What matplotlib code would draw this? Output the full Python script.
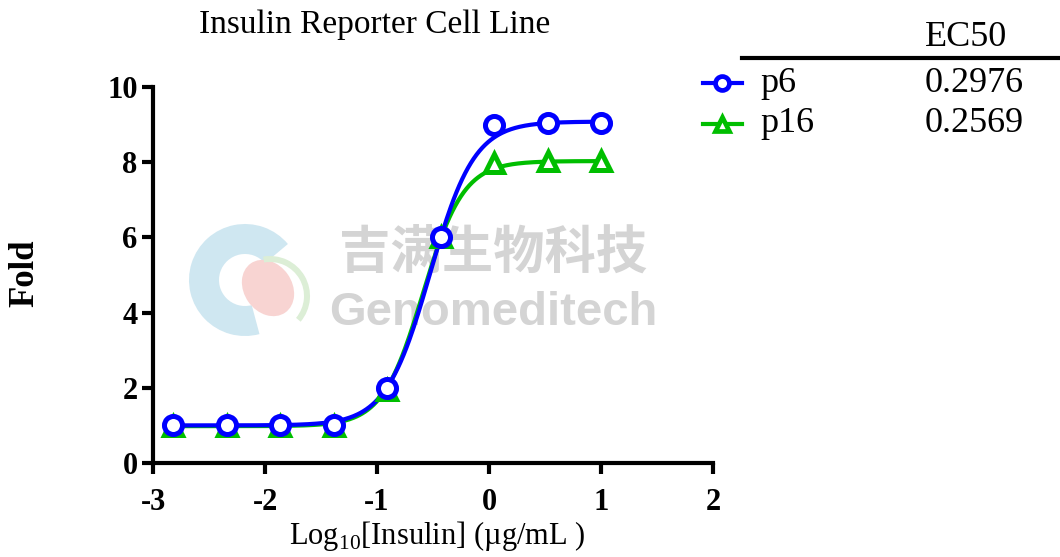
import numpy as np
import matplotlib.pyplot as plt
from matplotlib.lines import Line2D
from matplotlib.patches import Wedge, Ellipse

# ── STYLE ──────────────────────────────────────────────────
plt.rcParams["font.family"] = ["Liberation Serif", "DejaVu Serif"]
plt.rcParams["axes.unicode_minus"] = False
plt.rcParams["mathtext.fontset"] = "custom"
plt.rcParams["mathtext.rm"] = "Liberation Serif"

BLUE  = "#0000FF"
GREEN = "#00BE00"

# ── DATA ───────────────────────────────────────────────────
log_conc = [-2.817, -2.340, -1.863, -1.385, -0.908, -0.431, 0.046, 0.523, 1.0]
p6_fold  = [1.0, 1.0, 1.0, 1.0, 2.0, 6.0, 9.0, 9.05, 9.05]
p16_fold = [0.98, 0.98, 0.98, 0.98, 1.95, 6.0, 7.98, 8.02, 8.02]

series_names = ["p6", "p16"]
ec50_values  = [0.2976, 0.2569]
fit_bottom   = [1.0, 0.98]
fit_top      = [9.08, 8.03]
fit_hill     = [2.2, 2.4]

x_ticks = [-3, -2, -1, 0, 1, 2]
y_ticks = [0, 2, 4, 6, 8, 10]


def four_pl(x, bottom, top, logec50, hill):
    return bottom + (top - bottom) / (1 + 10 ** ((logec50 - x) * hill))


fig = plt.figure(figsize=(10.6, 5.57), dpi=100)

# ── WATERMARK (pixel coords overlay) ───────────────────────
wm = fig.add_axes([0, 0, 1, 1], zorder=0)
wm.set_xlim(0, 1060)
wm.set_ylim(557, 0)
wm.axis("off")
wm.add_patch(Wedge((245, 280), 56, 75, 320, width=30, facecolor="#cfe7f1", lw=0))
wm.add_patch(Ellipse((268, 288), 48, 60, angle=-35, facecolor="#f8d4d2", lw=0))
wm.add_patch(Wedge((270, 296), 40, 260, 40, width=6, facecolor="#dceed6", lw=0))
wm.text(493, 252, "吉满生物科技", family=["Noto Sans CJK SC"], fontsize=37,
        fontweight="bold", color="#d4d4d4", ha="center", va="center")
wm.text(493, 313, "Genomeditech", family=["Liberation Sans", "DejaVu Sans"], fontsize=34,
        fontweight="bold", color="#d4d4d4", ha="center", va="center")

ax = fig.add_axes([153 / 1060, 1 - 463 / 557, 560 / 1060, 376 / 557], zorder=1)

xs = np.linspace(log_conc[0], log_conc[-1], 300)
markers = ["^", "o"]
colors = [GREEN, BLUE]
data = [p16_fold, p6_fold]
idx = [1, 0]
for k, i in enumerate(idx):
    ax.plot(xs, four_pl(xs, fit_bottom[i], fit_top[i], np.log10(ec50_values[i]), fit_hill[i]),
            color=colors[k], lw=3, zorder=3)
    ax.plot(log_conc, data[k], ls="none", marker=markers[k], ms=13,
            mfc="white", mec=colors[k], mew=3.6, zorder=4)

ax.set_xlim(-3, 2)
ax.set_ylim(0, 10)
ax.set_xticks(x_ticks)
ax.set_yticks(y_ticks)
ax.set_xticklabels([str(t) for t in x_ticks], fontweight="bold", fontsize=22)
ax.set_yticklabels([str(t) for t in y_ticks], fontweight="bold", fontsize=22)
ax.tick_params(width=3, length=8, pad=3)
ax.tick_params(axis="x", pad=10)
for s in ["top", "right"]:
    ax.spines[s].set_visible(False)
for s in ["left", "bottom"]:
    ax.spines[s].set_linewidth(3)
ax.patch.set_alpha(0)

fig.text(437 / 1060, 1 - 536 / 557, "Log$_{10}$[Insulin] (µg/mL )", fontsize=22,
         ha="center", va="center")
fig.text(25 / 1060, 1 - 273 / 557, "Fold", fontsize=25, fontweight="bold",
         rotation=90, ha="center", va="center")
fig.text(375 / 1060, 1 - 25 / 557, "Insulin Reporter Cell Line", fontsize=24,
         ha="center", va="center")

# ── LEGEND TABLE ───────────────────────────────────────────
fig.text(925 / 1060, 1 - 38 / 557, "EC50", fontsize=26, va="center")
fig.add_artist(Line2D([742 / 1060, 1.0], [1 - 58 / 557] * 2, color="black", lw=3))
leg_y = [83, 124]
leg_mark = ["o", "^"]
leg_col = [BLUE, GREEN]
for i in range(2):
    y = 1 - leg_y[i] / 557
    fig.add_artist(Line2D([703 / 1060, 742 / 1060], [y, y], color=leg_col[i], lw=3))
    fig.add_artist(Line2D([722 / 1060], [y], marker=leg_mark[i], ms=10, mfc="white",
                          mec=leg_col[i], mew=3.4))
    fig.text(760 / 1060, y, series_names[i], fontsize=26, va="center")
    fig.text(925 / 1060, y, f"{ec50_values[i]:.4f}", fontsize=26, va="center")

fig.savefig("out.png", dpi=100)
